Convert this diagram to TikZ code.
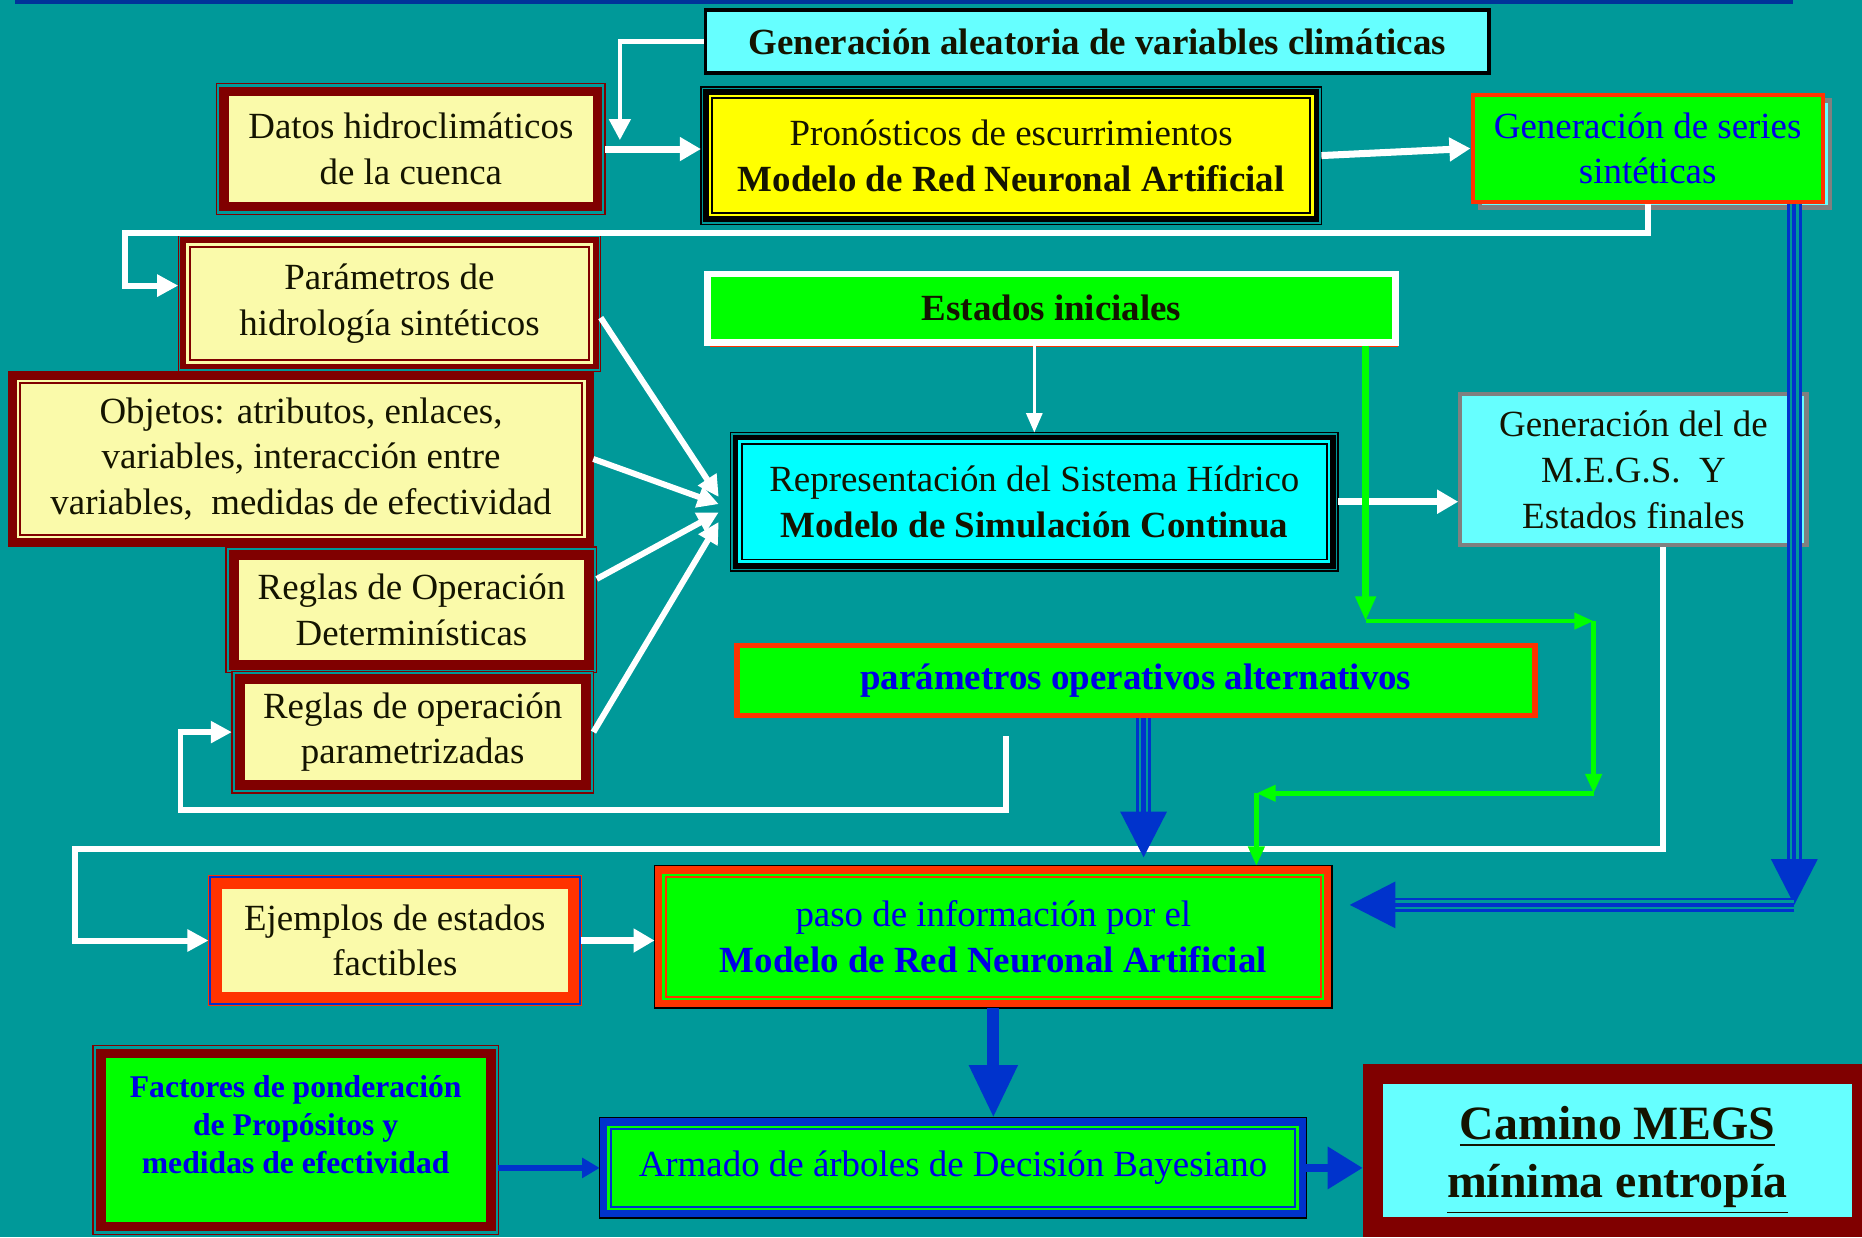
\documentclass[tikz,border=0pt]{standalone}
\usepackage{fontspec}
\setmainfont{Liberation Serif}
\usepackage{xcolor}
\usepackage{tikz}
\usetikzlibrary{arrows.meta, positioning, calc, shadows}
\definecolor{fondo}{RGB}{0,153,153}
\definecolor{cielo}{RGB}{102,255,255}
\definecolor{cian}{RGB}{0,255,255}
\definecolor{amarillo}{RGB}{255,255,0}
\definecolor{crema}{RGB}{250,250,170}
\definecolor{verde}{RGB}{0,255,0}
\definecolor{rojo}{RGB}{255,51,0}
\definecolor{guinda}{RGB}{128,0,0}
\definecolor{azul}{RGB}{0,51,204}
\definecolor{azultexto}{RGB}{0,0,230}
\definecolor{azulbarra}{RGB}{0,51,153}
\definecolor{gris}{RGB}{128,128,128}
\definecolor{tinta}{RGB}{20,20,0}
\newcommand{\cuerpo}{\fontsize{10.5}{13}\selectfont}

\begin{document}
\begin{tikzpicture}[x=0.011875cm, y=-0.011875cm,
    every node/.style={align=center, inner sep=2pt, text=tinta, font=\cuerpo},
    dato/.style={fill=#1, draw=guinda, line width=2.8pt, outer sep=2.2pt,
      preaction={draw=guinda, line width=4.8pt}, preaction={draw=fondo, line width=4pt}},
    marco/.style n args={4}{fill=#4, draw=#3, double=#4, line width=0.5pt, double distance=0.8pt, outer sep=2.6pt,
      preaction={draw=#1, line width=5.6pt}, preaction={draw=#2, line width=4.8pt},
      preaction={draw=#3, line width=4pt}},
    flecha/.style={draw=white, line width=1.7pt, -{Triangle[width=6pt,length=6pt]}},
    flechafina/.style={draw=white, line width=0.9pt, -{Triangle[width=4.5pt,length=5.5pt]}},
    flechagruesa/.style={draw=white, line width=2pt, -{Triangle[width=6.5pt,length=6pt]}},
    guia/.style={draw=verde, line width=1.3pt, -{Triangle[width=4.5pt,length=5.5pt]}},
    tubo/.style={draw=azul, line width=0.8pt, double=fondo, double distance=2.6pt, shorten >=8pt},
    nucleo/.style={draw=azul, line width=1.2pt, -{Triangle[width=13pt,length=13pt]}}]

    \fill[fondo] (0,0) rectangle (1568,1042);
    \useasboundingbox (0,0) rectangle (1568,1042);
    \fill[azulbarra] (13,0) rectangle (1510,3);

    \node[fill=cielo, draw=black, line width=1pt, minimum width=7.83cm, minimum height=0.63cm, font=\cuerpo\bfseries] (aleatoria) at (924,35) {Generación aleatoria de variables climáticas};
    \node[dato=crema, minimum width=3.73cm, minimum height=1.15cm] (datos) at (346,125.5) {Datos hidroclimáticos\\de la cuenca};
    \node[marco={black}{fondo}{black}{amarillo}, minimum width=6.02cm, minimum height=1.19cm] (pronostico) at (851.5,131) {Pronósticos de escurrimientos\\\textbf{Modelo de Red Neuronal Artificial}};
    \node[fill=verde, draw=rojo, line width=1.2pt, text=azultexto, minimum width=3.5cm, minimum height=1.07cm,
      drop shadow={shadow xshift=2pt, shadow yshift=-1.6pt, fill=cielo, draw=gris, opacity=1}] (series) at (1387.5,125) {Generación de series\\sintéticas};
    \node[marco={guinda}{fondo}{guinda}{crema}, minimum width=4.04cm, minimum height=1.18cm] (hidrologia) at (328,255.5) {Parámetros de\\hidrología sintéticos};
    \node[marco={guinda}{guinda}{guinda}{crema}, minimum width=5.66cm, minimum height=1.56cm] (objetos) at (253.5,386.5) {Objetos: atributos, enlaces,\\variables, interacción entre\\variables,~ medidas de efectividad};
    \node[dato=crema, minimum width=3.55cm, minimum height=1.1cm] (reglasdet) at (346.5,513.5) {Reglas de Operación\\Determinísticas};
    \node[dato=crema, minimum width=3.46cm, minimum height=1.06cm] (reglaspar) at (347.5,616.5) {Reglas de operación\\parametrizadas};
    \node[fill=verde, draw=white, line width=1.9pt, minimum width=6.88cm, minimum height=0.68cm, font=\cuerpo\bfseries,
      drop shadow={shadow xshift=0.8pt, shadow yshift=-1.5pt, fill=rojo, opacity=1}] (iniciales) at (885.5,259.5) {Estados iniciales};
    \node[marco={black}{fondo}{black}{cian}, minimum width=5.89cm, minimum height=1.2cm] (sistema) at (871,422.5) {Representación del Sistema Hídrico\\\textbf{Modelo de Simulación Continua}};
    \node[fill=cielo, draw=gris, line width=1.2pt, minimum width=3.46cm, minimum height=1.51cm] (megs) at (1375.5,395.5) {Generación del de\\M.E.G.S.~ Y\\Estados finales};
    \node[fill=verde, draw=rojo, line width=1.6pt, text=azultexto, font=\cuerpo\bfseries, minimum width=7.98cm, minimum height=0.7cm] (alternativos) at (956.5,573) {parámetros operativos alternativos};
    \node[fill=crema, draw=rojo, line width=3.2pt, outer sep=2.2pt, preaction={draw=rojo, line width=4.8pt}, preaction={draw=azul, line width=4.2pt},
      minimum width=3.57cm, minimum height=1.14cm] (ejemplos) at (332.5,792) {Ejemplos de estados\\factibles};
    \node[marco={black}{rojo}{rojo}{verde}, text=azultexto, minimum width=6.59cm, minimum height=1.24cm] (paso) at (836.5,789) {paso de información por el\\\textbf{Modelo de Red Neuronal Artificial}};
    \node[dato=verde, text=azultexto, font=\fontsize{9}{10.8}\selectfont\bfseries, minimum width=3.9cm, minimum height=1.73cm] (factores) at (249,960) {Factores de ponderación\\de Propósitos y\\medidas de efectividad\\[-2pt]\mbox{}};
    \node[marco={black}{azul}{azul}{verde}, text=azultexto, minimum width=6.88cm, minimum height=0.82cm] (arboles) at (802.5,983.5) {Armado de árboles de Decisión Bayesiano};
    \node[fill=cielo, draw=guinda, line width=5.7pt, font=\fontsize{13.6}{16.5}\selectfont\bfseries, minimum width=4.89cm, minimum height=1.53cm] (camino) at (1362,969) {\mbox{}\\[-1.5pt]\underline{Camino MEGS}\\\underline{mínima entropía}};

    \coordinate (mezcla) at (522,118);
    \coordinate (cruce) at (105,196);
    \coordinate (regreso) at (847,620);
    \coordinate (vuelta) at (152,682);
    \coordinate (bajada) at (1400,715);
    \coordinate (orilla) at (63,715);

    \draw[flecha, line width=1.3pt] (aleatoria.west) -| (mezcla);
    \draw[flechagruesa] (datos.east) -- (datos.east -| pronostico.west);
    \draw[flechagruesa] (pronostico.east) -- (series.west);
    \draw[flecha] (series.south) |- (cruce) |- ([shift={(0,-15)}]hidrologia.west);
    \draw[flecha] ([shift={(0,12)}]hidrologia.east) -- ([shift={(-10,-4)}]sistema.west);
    \draw[flecha] (objetos.east) -- ([shift={(-10,2)}]sistema.west);
    \draw[flecha] ([shift={(0,-26)}]reglasdet.east) -- ([shift={(-10,9)}]sistema.west);
    \draw[flecha] (reglaspar.east) -- ([shift={(-10,17)}]sistema.west);
    \draw[flechafina] (sistema.north |- iniciales.south) -- (sistema.north);
    \draw[flechagruesa] (sistema.east) -- (sistema.east -| megs.west);
    \draw[flecha] (regreso) |- (vuelta) |- (reglaspar.west);
    \draw[flecha] (bajada |- megs.south) -- (bajada) -- (orilla) |- (ejemplos.west);
    \draw[flechagruesa] (ejemplos.east) -- (ejemplos.east -| paso.west);

    \coordinate (g1) at (1150,523);
    \coordinate (g2) at (1342,523);
    \coordinate (g3) at (1342,668);
    \coordinate (g4) at (1058,668);
    \draw[guia, line width=1.8pt, -{Triangle[width=5.5pt,length=7pt]}] (g1 |- iniciales.south) -- (g1);
    \draw[guia] (g1) -- (g2);
    \draw[guia] (g2) -- (g3);
    \draw[guia] (g3) -- (g4);
    \draw[guia] (g4) -- (g4 |- paso.north);

    \coordinate (caida) at (963,722);
    \coordinate (esquina) at (1511,762);
    \draw[tubo] (caida |- alternativos.south) -- (caida);
    \draw[nucleo] (caida |- alternativos.south) -- (caida);
    \draw[tubo] (esquina |- series.south) -- (esquina);
    \draw[nucleo] (esquina |- series.south) -- (esquina);
    \draw[tubo, shorten >=13pt] (esquina) -- (paso.east |- esquina);
    \draw[nucleo, shorten >=5pt] (esquina) -- (paso.east |- esquina);
    \draw[azul, line width=3.4pt, -{Triangle[width=13pt,length=15pt]}] (paso.south) -- (paso.south |- arboles.north);
    \draw[azul, line width=1.7pt, -{Triangle[width=5.5pt,length=5pt]}] (factores.east |- arboles.west) -- (arboles.west);
    \draw[azul, line width=2.4pt, -{Triangle[width=11.5pt,length=10pt]}] (arboles.east) -- (arboles.east -| camino.west);
\end{tikzpicture}
\end{document}
